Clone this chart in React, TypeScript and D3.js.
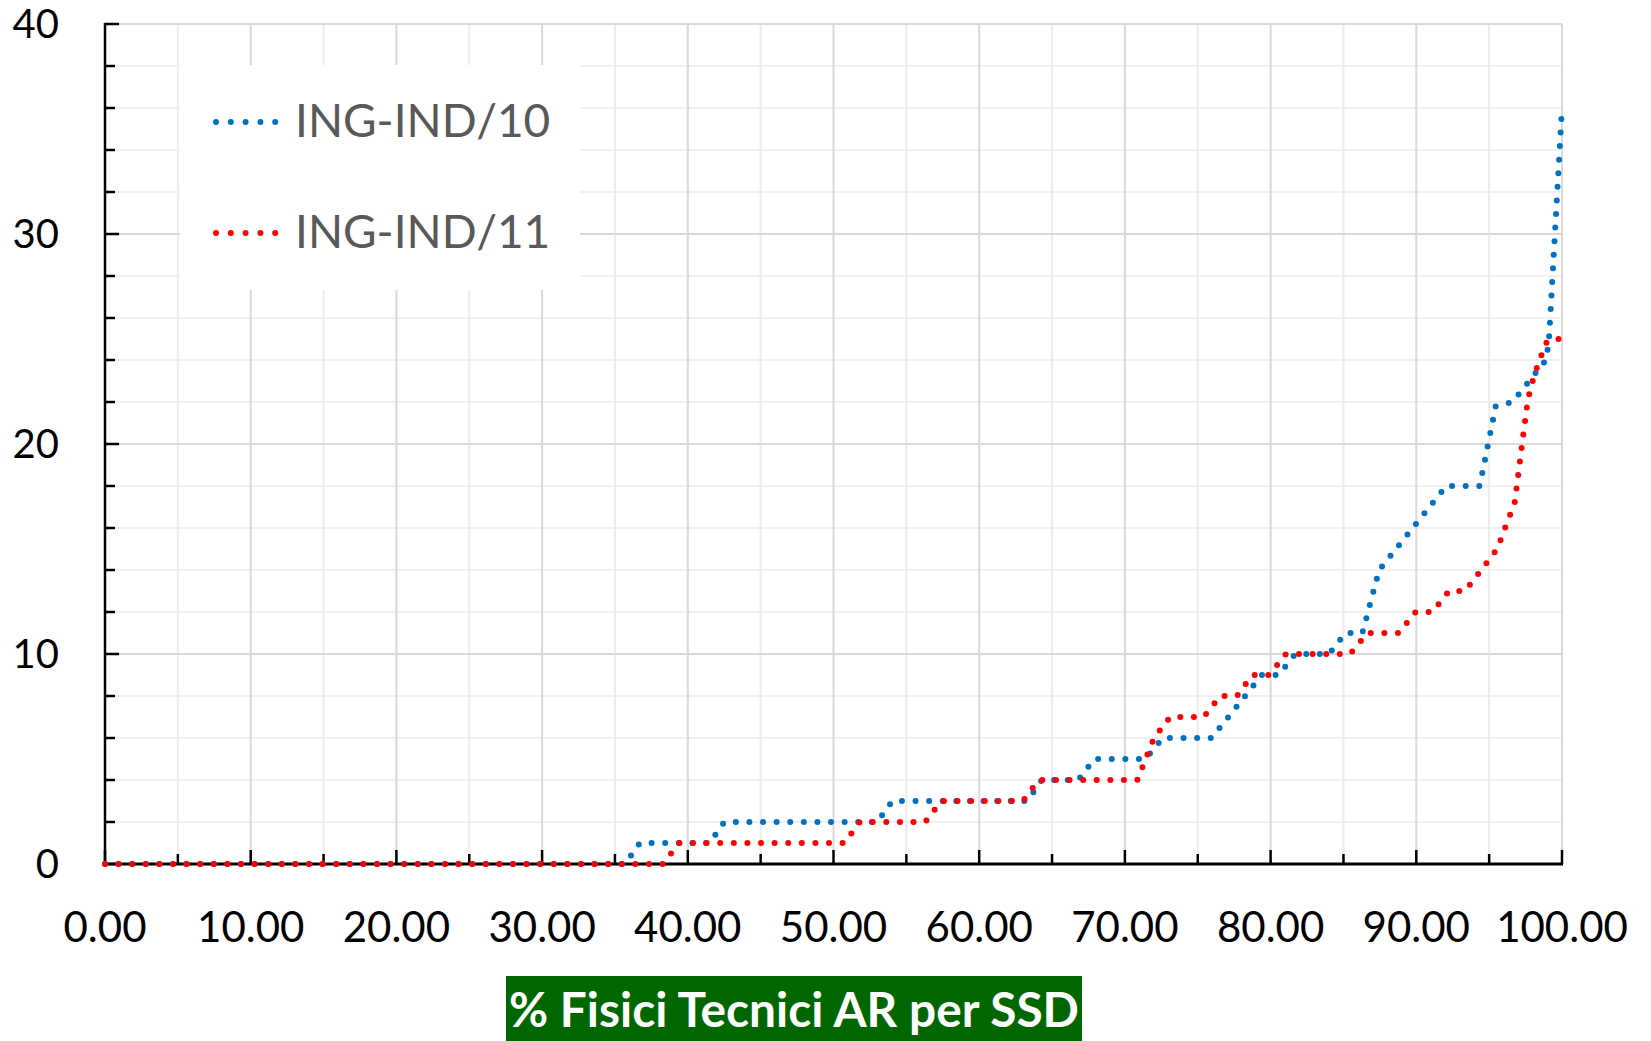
import React from 'react';
import * as d3 from 'd3';

// ---- data ----
const seriesNames = ['ING-IND/10', 'ING-IND/11'];

const ind10X = [0, 35.7, 36.7, 41.5, 42.5, 53.0, 54.05, 63.3, 64.3, 66.8, 67.9, 71.4, 72.6, 75.95, 77.1, 78.25, 79.4, 80.55, 81.7, 84.0, 85.15, 86.3, 87.45, 88.6, 89.75, 90.9, 92.05, 94.35, 95.45, 96.6, 97.75, 98.9, 99.1, 100];
const ind10Y = [0, 0, 1, 1, 2, 2, 3, 3, 4, 4, 5, 5, 6, 6, 7, 8, 9, 9, 10, 10, 11, 11, 14, 15, 16, 17, 18, 18, 21.8, 22, 23, 24, 24.9, 36];

const ind11X = [0, 38.3, 39.4, 50.75, 51.8, 56.3, 57.4, 63.0, 64.1, 70.85, 72.0, 73.1, 75.4, 76.55, 77.7, 78.75, 79.9, 81.05, 85.45, 86.65, 88.8, 89.95, 91.1, 92.25, 93.35, 95.55, 96.75, 97.65, 98.1, 98.9, 99.2, 100];
const ind11Y = [0, 0, 1, 1, 2, 2, 3, 3, 4, 4, 6, 7, 7, 8, 8, 9, 9, 10, 10, 11, 11, 12, 12, 13, 13, 15, 17.2, 22.1, 23.3, 24.8, 25, 25];

const xMajorTicks = [0, 10, 20, 30, 40, 50, 60, 70, 80, 90, 100];
const xMinorTicks = [5, 15, 25, 35, 45, 55, 65, 75, 85, 95];
const yMajorTicks = [0, 10, 20, 30, 40];
const yMinorTicks = [2, 4, 6, 8, 12, 14, 16, 18, 22, 24, 26, 28, 32, 34, 36, 38];

const axisTitle = '% Fisici Tecnici AR per SSD';

// ---- layout ----
const W = 1651;
const H = 1041;
const L = 105;
const R = 1562;
const T = 24;
const B = 864;

const BLUE = '#0070C0';
const RED = '#FF0000';
const FONT = 'Lato, "Noto Sans", sans-serif';

export default function App() {
  const x = d3.scaleLinear().domain([0, 100]).range([L, R]);
  const y = d3.scaleLinear().domain([0, 40]).range([B, T]);
  const line = d3
    .line<[number, number]>()
    .x((d) => x(d[0]))
    .y((d) => y(d[1]));

  const s10 = ind10X.map((v, i) => [v, ind10Y[i]] as [number, number]);
  const s11 = ind11X.map((v, i) => [v, ind11Y[i]] as [number, number]);

  const dotStyle = {
    fill: 'none',
    strokeWidth: 6,
    strokeLinecap: 'round' as const,
    strokeLinejoin: 'round' as const,
    strokeDasharray: '0 13.6',
  };

  return (
    <svg
      width={W}
      height={H}
      viewBox={`0 0 ${W} ${H}`}
      style={{ position: 'absolute', left: 0, top: 0, background: '#fff' }}
    >
      <rect x={0} y={0} width={W} height={H} fill="#fff" />
      {/* minor grid */}
      {yMinorTicks.map((t) => (
        <line key={'ym' + t} x1={L} x2={R} y1={y(t)} y2={y(t)} stroke="#f0f0f0" strokeWidth={2} />
      ))}
      {xMinorTicks.map((t) => (
        <line key={'xm' + t} x1={x(t)} x2={x(t)} y1={T} y2={B} stroke="#ececec" strokeWidth={2} />
      ))}
      {/* major grid */}
      {yMajorTicks.map((t) => (
        <line key={'yM' + t} x1={L} x2={R} y1={y(t)} y2={y(t)} stroke="#d9d9d9" strokeWidth={2} />
      ))}
      {xMajorTicks.map((t) => (
        <line key={'xM' + t} x1={x(t)} x2={x(t)} y1={T} y2={B} stroke="#d9d9d9" strokeWidth={2} />
      ))}

      {/* legend box */}
      <rect x={180} y={65} width={400} height={225} fill="#fff" />

      {/* axes */}
      <line x1={L} x2={L} y1={T - 1} y2={B + 1.5} stroke="#000" strokeWidth={2.5} />
      <line x1={L - 1} x2={R + 1} y1={B} y2={B} stroke="#000" strokeWidth={3} />
      {yMajorTicks.map((t) => (
        <line key={'ytM' + t} x1={L} x2={L + 14} y1={y(t)} y2={y(t)} stroke="#000" strokeWidth={2.5} />
      ))}
      {yMinorTicks.map((t) => (
        <line key={'ytm' + t} x1={L} x2={L + 10} y1={y(t)} y2={y(t)} stroke="#000" strokeWidth={2.5} />
      ))}
      {xMajorTicks.map((t) => (
        <line key={'xtM' + t} x1={x(t)} x2={x(t)} y1={B} y2={B - 14} stroke="#000" strokeWidth={2.5} />
      ))}
      {xMinorTicks.map((t) => (
        <line key={'xtm' + t} x1={x(t)} x2={x(t)} y1={B} y2={B - 10} stroke="#000" strokeWidth={2.5} />
      ))}

      {/* series */}
      <path d={line(s10) || ''} stroke={BLUE} {...dotStyle} />
      <path d={line(s11) || ''} stroke={RED} {...dotStyle} />

      {/* tick labels */}
      {yMajorTicks.map((t) => (
        <text
          key={'yl' + t}
          x={59}
          y={y(t) + 14.4}
          textAnchor="end"
          fontFamily={FONT}
          fontSize={40}
          fill="#000"
        >
          {t}
        </text>
      ))}
      {xMajorTicks.map((t) => (
        <text
          key={'xl' + t}
          x={x(t)}
          y={942}
          textAnchor="middle"
          fontFamily={FONT}
          fontSize={42}
          fill="#000"
        >
          {d3.format('.2f')(t)}
        </text>
      ))}

      {/* legend */}
      {[BLUE, RED].map((c, i) => {
        const ly = i === 0 ? 122 : 233;
        return (
          <g key={'lg' + i}>
            <line
              x1={216}
              x2={277}
              y1={ly}
              y2={ly}
              stroke={c}
              strokeWidth={6}
              strokeLinecap="round"
              strokeDasharray="0 14.8"
            />
            <text x={295} y={ly + 15} fontFamily={FONT} fontSize={46} fill="#595959">
              {seriesNames[i]}
            </text>
          </g>
        );
      })}

      {/* axis title */}
      <rect x={506} y={976} width={576} height={66} fill="#006600" />
      <text
        x={509}
        y={1027}
        fontFamily={FONT}
        fontWeight="bold"
        fontSize={48}
        fill="#fff"
        textLength={570}
        lengthAdjust="spacingAndGlyphs"
      >
        {axisTitle}
      </text>
    </svg>
  );
}
